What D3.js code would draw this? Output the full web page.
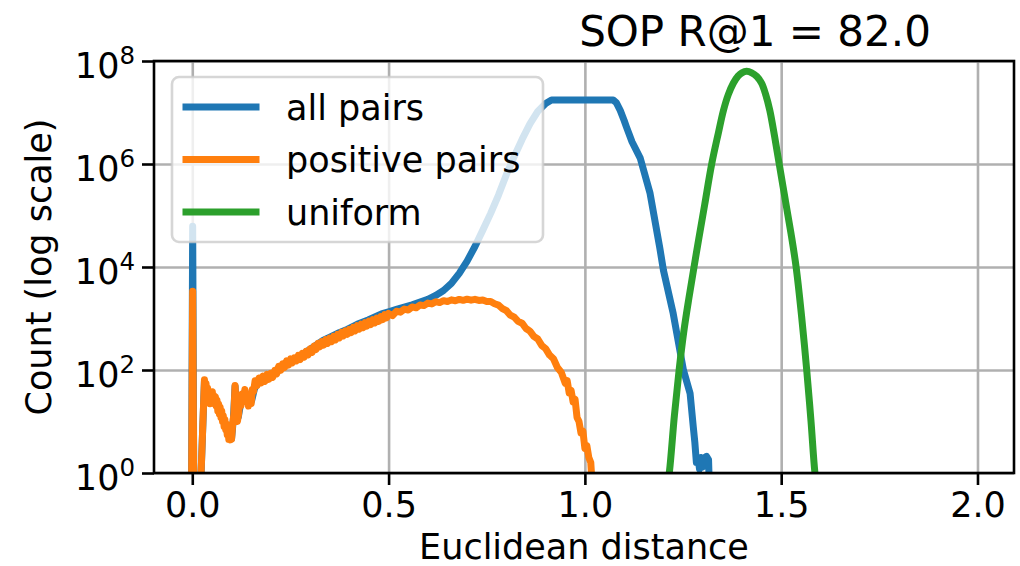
<!DOCTYPE html>
<html>
<head>
<meta charset="utf-8">
<script src="https://cdn.jsdelivr.net/npm/d3@7/dist/d3.min.js"></script>
<style>
	html, body { margin: 0; padding: 0; background: #fff; }
	svg { display: block; font-family: 'DejaVu Sans', sans-serif; }
</style>
</head>
<body>
<div id="chart"></div>
<script>
// series values (x = distance, y = count)
const allPairsDist = [-0.002, 0.001, 0.004, 0.02, 0.031, 0.037, 0.045, 0.052, 0.062, 0.068, 0.075, 0.082, 0.092, 0.1, 0.105, 0.109, 0.113, 0.117, 0.124, 0.134, 0.142, 0.151, 0.158, 0.168, 0.185, 0.202, 0.224, 0.245, 0.27, 0.29, 0.31, 0.333, 0.352, 0.374, 0.396, 0.42, 0.448, 0.482, 0.5, 0.52, 0.54, 0.56, 0.58, 0.6, 0.62, 0.64, 0.66, 0.68, 0.7, 0.72, 0.74, 0.76, 0.78, 0.8, 0.82, 0.84, 0.86, 0.88, 0.9, 0.915, 1.072, 1.08, 1.09, 1.1, 1.106, 1.12, 1.141, 1.166, 1.191, 1.2, 1.225, 1.251, 1.268, 1.276, 1.28, 1.284, 1.288, 1.292, 1.296, 1.3, 1.305, 1.31, 1.315, 1.318];
const allPairsCount = [0.3, 62000, 0.3, 0.3, 60, 38, 25, 30, 24, 18, 13, 9, 5.5, 4.6, 12, 48, 16, 12, 24, 38, 24, 25, 42, 62, 68, 80, 112, 135, 180, 225, 285, 375, 440, 530, 620, 770, 940, 1230, 1350, 1500, 1660, 1850, 2080, 2350, 2800, 3500, 4800, 7500, 13000, 25000, 52000, 110000, 250000, 620000, 1400000, 3000000, 6000000, 10500000, 15000000, 17500000, 17500000, 15500000, 11000000, 7000000, 5200000, 2700000, 1300000, 270000, 23000, 8700, 1250, 100, 35, 8, 4, 1.6, 2, 1.2, 2, 1.3, 2, 2.1, 1.8, 0.3];

const posPairsDist = [-0.002, 0.001, 0.004, 0.02, 0.031, 0.033, 0.035, 0.037, 0.039, 0.041, 0.043, 0.045, 0.047, 0.049, 0.051, 0.053, 0.055, 0.057, 0.059, 0.061, 0.063, 0.065, 0.067, 0.069, 0.071, 0.073, 0.075, 0.077, 0.079, 0.081, 0.083, 0.085, 0.087, 0.089, 0.091, 0.093, 0.095, 0.097, 0.1, 0.103, 0.106, 0.109, 0.112, 0.115, 0.118, 0.121, 0.124, 0.127, 0.13, 0.134, 0.137, 0.14, 0.143, 0.146, 0.15, 0.153, 0.156, 0.16, 0.165, 0.17, 0.175, 0.18, 0.185, 0.19, 0.195, 0.2, 0.205, 0.21, 0.215, 0.22, 0.225, 0.23, 0.235, 0.24, 0.245, 0.25, 0.255, 0.26, 0.265, 0.27, 0.275, 0.28, 0.285, 0.29, 0.295, 0.3, 0.305, 0.31, 0.315, 0.32, 0.325, 0.33, 0.335, 0.34, 0.345, 0.35, 0.355, 0.36, 0.365, 0.37, 0.375, 0.38, 0.385, 0.39, 0.395, 0.4, 0.405, 0.41, 0.415, 0.42, 0.425, 0.43, 0.435, 0.44, 0.445, 0.45, 0.455, 0.46, 0.465, 0.47, 0.475, 0.48, 0.485, 0.49, 0.495, 0.5, 0.51, 0.52, 0.53, 0.54, 0.55, 0.56, 0.57, 0.58, 0.59, 0.6, 0.61, 0.62, 0.63, 0.64, 0.65, 0.66, 0.67, 0.68, 0.69, 0.7, 0.71, 0.72, 0.73, 0.74, 0.75, 0.76, 0.77, 0.78, 0.79, 0.8, 0.81, 0.82, 0.83, 0.84, 0.85, 0.86, 0.87, 0.88, 0.89, 0.9, 0.91, 0.92, 0.93, 0.94, 0.95, 0.955, 0.96, 0.965, 0.97, 0.975, 0.98, 0.985, 0.99, 0.995, 1.0, 1.005, 1.01, 1.015, 1.02];
const posPairsCount = [0.3, 3400, 0.3, 0.3, 65, 40, 55, 32, 45, 26, 36, 22, 30, 24, 38, 26, 32, 22, 30, 20, 26, 16, 22, 14, 19, 12, 16, 10, 13, 8, 11, 7, 9, 5.5, 7, 4.5, 6, 4.4, 4.5, 9, 14, 50, 18, 10, 14, 26, 20, 34, 24, 42, 28, 32, 20, 32, 22, 42, 38, 62, 50, 70, 56, 76, 60, 82, 66, 86, 72, 98, 84, 118, 98, 132, 112, 150, 124, 164, 138, 172, 150, 192, 160, 210, 178, 230, 196, 258, 220, 290, 250, 330, 282, 356, 305, 390, 330, 418, 355, 448, 385, 490, 420, 540, 460, 578, 495, 618, 535, 675, 575, 725, 620, 775, 665, 830, 715, 890, 765, 950, 820, 1015, 880, 1090, 950, 1190, 1030, 1250, 1140, 1380, 1330, 1520, 1460, 1680, 1610, 1830, 1780, 1990, 1920, 2120, 2040, 2220, 2140, 2300, 2210, 2350, 2250, 2370, 2270, 2360, 2240, 2280, 2130, 2140, 1930, 1820, 1560, 1420, 1160, 1060, 880, 810, 640, 570, 450, 400, 300, 260, 195, 165, 112, 90, 55, 62, 36, 40, 24, 27, 12, 10, 6, 6.5, 3, 3.4, 2, 1.6, 0.4];

const uniformDist = [1.205, 1.215, 1.228, 1.24, 1.252, 1.265, 1.278, 1.29, 1.305, 1.323, 1.34, 1.353, 1.365, 1.378, 1.39, 1.4, 1.412, 1.425, 1.438, 1.45, 1.46, 1.471, 1.483, 1.495, 1.51, 1.525, 1.538, 1.552, 1.565, 1.576, 1.586, 1.595];
const uniformCount = [0.3, 1, 13, 100, 560, 2500, 10000, 35000, 160000, 1000000, 4000000, 11000000, 22000000, 37000000, 51000000, 59000000, 63000000, 59000000, 50000000, 37000000, 23000000, 11000000, 3500000, 1000000, 210000, 45000, 10000, 1100, 100, 10, 1, 0.3];

const seriesNames = ['all pairs', 'positive pairs', 'uniform'];
const seriesColors = ['#1f77b4', '#ff7f0e', '#2ca02c'];

const xTicks = [0, 0.5, 1.0, 1.5, 2.0];
const yTicks = [1, 1e2, 1e4, 1e6, 1e8];
const yTickExp = ['0', '2', '4', '6', '8'];

const titleText = 'SOP R@1 = 82.0';
const xLabel = 'Euclidean distance';
const yLabel = 'Count (log scale)';

// layout
const W = 1020, H = 566;
const m = { top: 61, right: 6, bottom: 93, left: 154 };
const width = W - m.left - m.right,
	height = H - m.top - m.bottom;
const fs = 35;

const x = d3.scaleLinear().domain([-0.0975, 2.093]).range([0, width]);
const y = d3.scaleLog().domain([1, 1e8]).range([height, 0]);

const svg = d3.select('#chart').append('svg')
	.attr('width', W)
	.attr('height', H)
	.attr('viewBox', `0 0 ${W} ${H}`);

svg.append('defs').append('clipPath')
	.attr('id', 'plotClip')
	.append('rect')
	.attr('width', width)
	.attr('height', height);

const g = svg.append('g')
	.attr('transform', `translate(${m.left},${m.top})`);

// grid
g.append('g')
	.attr('transform', `translate(0,${height})`)
	.call(d3.axisBottom(x).tickValues(xTicks).tickSize(-height).tickFormat(''))
	.call(gg => {
		gg.select('.domain').remove();
		gg.selectAll('.tick line').attr('stroke', '#b0b0b0').attr('stroke-width', 2.6);
	});
g.append('g')
	.call(d3.axisLeft(y).tickValues(yTicks).tickSize(-width).tickFormat(''))
	.call(gg => {
		gg.select('.domain').remove();
		gg.selectAll('.tick line').attr('stroke', '#b0b0b0').attr('stroke-width', 2.6);
	});

// lines
const line = d3.line()
	.x(d => x(d[0]))
	.y(d => y(d[1]));
const smooth = d3.line()
	.curve(d3.curveCatmullRom.alpha(0.5))
	.x(d => x(d[0]))
	.y(d => y(d[1]));

const series = [
	{ data: d3.zip(allPairsDist, allPairsCount), gen: line },
	{ data: d3.zip(posPairsDist, posPairsCount), gen: line },
	{ data: d3.zip(uniformDist, uniformCount), gen: smooth }
];

g.append('g')
	.attr('clip-path', 'url(#plotClip)')
	.selectAll('path')
	.data(series)
	.enter()
	.append('path')
	.attr('d', d => d.gen(d.data))
	.attr('fill', 'none')
	.attr('stroke', (d, i) => seriesColors[i])
	.attr('stroke-width', 7)
	.attr('stroke-linejoin', 'round')
	.attr('stroke-linecap', 'butt');

// axes
const xAxis = d3.axisBottom(x).tickValues(xTicks).tickSize(12).tickFormat(d3.format('.1f'));
g.append('g')
	.attr('transform', `translate(0,${height})`)
	.call(xAxis)
	.call(gg => {
		gg.select('.domain').remove();
		gg.selectAll('.tick line').attr('stroke', '#000').attr('stroke-width', 2.6);
		gg.selectAll('.tick text')
			.attr('y', 44)
			.attr('dy', null)
			.attr('fill', '#000')
			.style('font-size', fs + 'px')
			.style('font-family', 'DejaVu Sans');
	});

const yAxis = d3.axisLeft(y).tickValues(yTicks).tickSize(12).tickFormat('');
g.append('g')
	.call(yAxis)
	.call(gg => {
		gg.select('.domain').remove();
		gg.selectAll('.tick line').attr('stroke', '#000').attr('stroke-width', 2.6);
		const t = gg.selectAll('.tick text')
			.attr('x', -19)
			.attr('y', 16)
			.attr('dy', null)
			.attr('fill', '#000')
			.style('font-family', 'DejaVu Sans');
		t.append('tspan').style('font-size', fs + 'px').text('10');
		t.append('tspan')
			.style('font-size', (fs * 0.7) + 'px')
			.attr('dy', -14)
			.text((d, i) => yTickExp[i]);
	});

// spines
g.append('rect')
	.attr('width', width)
	.attr('height', height)
	.attr('fill', 'none')
	.attr('stroke', '#000')
	.attr('stroke-width', 2.6);

// legend
const lg = g.append('g')
	.attr('transform', 'translate(18,16)');
lg.append('rect')
	.attr('width', 371)
	.attr('height', 165)
	.attr('rx', 7)
	.attr('fill', 'rgba(255,255,255,0.8)')
	.attr('stroke', 'rgba(204,204,204,0.8)')
	.attr('stroke-width', 2.6);
const items = lg.selectAll('.item')
	.data(seriesNames)
	.enter()
	.append('g')
	.attr('class', 'item')
	.attr('transform', (d, i) => `translate(14,${30 + i * 52.5})`);
items.append('line')
	.attr('x1', 0)
	.attr('x2', 70)
	.attr('stroke', (d, i) => seriesColors[i])
	.attr('stroke-width', 7)
	.attr('stroke-linecap', 'square');
items.append('text')
	.attr('x', 100)
	.attr('dy', '0.36em')
	.style('font-size', fs + 'px')
	.attr('fill', '#000')
	.text(d => d);

// title and labels
svg.append('text')
	.attr('x', 755)
	.attr('y', 46)
	.attr('text-anchor', 'middle')
	.style('font-size', '42px')
	.text(titleText);

svg.append('text')
	.attr('x', m.left + width / 2)
	.attr('y', 559)
	.attr('text-anchor', 'middle')
	.style('font-size', fs + 'px')
	.text(xLabel);

svg.append('text')
	.attr('transform', `translate(51,${m.top + height / 2}) rotate(-90)`)
	.attr('text-anchor', 'middle')
	.style('font-size', fs + 'px')
	.text(yLabel);
</script>
</body>
</html>
